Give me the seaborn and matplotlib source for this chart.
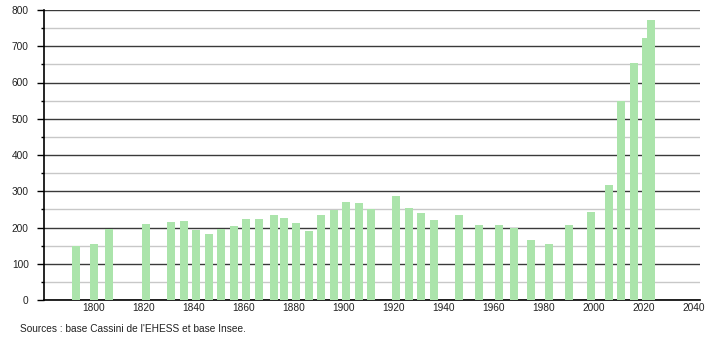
import matplotlib
matplotlib.use("Agg")
import matplotlib.pyplot as plt
import seaborn as sns
import pandas as pd
from matplotlib.ticker import MultipleLocator

years = [1793, 1800, 1806, 1821, 1831, 1836, 1841, 1846, 1851, 1856, 1861, 1866,
         1872, 1876, 1881, 1886, 1891, 1896, 1901, 1906, 1911, 1921, 1926, 1931,
         1936, 1946, 1954, 1962, 1968, 1975, 1982, 1990, 1999, 2006, 2011, 2016,
         2021, 2023]
population = [149, 154, 197, 211, 215, 218, 193, 182, 197, 204, 223, 223,
              234, 226, 213, 191, 234, 248, 270, 267, 251, 287, 253, 240,
              221, 234, 207, 207, 200, 166, 154, 207, 243, 317, 549, 655,
              722, 772]
x_ticks = [1800, 1820, 1840, 1860, 1880, 1900, 1920, 1940, 1960, 1980, 2000, 2020, 2040]
y_ticks = [0, 100, 200, 300, 400, 500, 600, 700, 800]
source_text = "Sources : base Cassini de l'EHESS et base Insee."

df = pd.DataFrame({"year": years, "population": population})

sns.set_style("white")
plt.rcParams["font.family"] = ["Liberation Sans", "DejaVu Sans"]

fig = plt.figure(figsize=(7.1, 3.4), dpi=100)
ax = fig.add_axes([44 / 710, 1 - 300 / 340, (700 - 44) / 710, 290 / 340])

sns.barplot(data=df, x="year", y="population", native_scale=True,
            color="#abe4ab", saturation=1, width=1.6, ax=ax, zorder=3,
            edgecolor="none", linewidth=0)

ax.set_xlim(1780, 2042.5)
ax.set_ylim(0, 800)
ax.set_xticks(x_ticks)
ax.set_xticklabels([str(t) for t in x_ticks])
ax.set_yticks(y_ticks)
ax.yaxis.set_minor_locator(MultipleLocator(50))
ax.set_xlabel("")
ax.set_ylabel("")

ax.set_axisbelow(True)
ax.grid(False)
ax.yaxis.grid(True, which="major", color="#3a3a3a", linewidth=1.0)
ax.yaxis.grid(True, which="minor", color="#c8c8c8", linewidth=1.0)

for s in ["top", "right"]:
    ax.spines[s].set_visible(False)
for s in ["left", "bottom"]:
    ax.spines[s].set_visible(True)
    ax.spines[s].set_color("#000000")
    ax.spines[s].set_linewidth(1.2)

ax.tick_params(axis="y", which="major", left=True, length=5, width=1, color="#000000",
               labelsize=7.3, pad=6, labelcolor="#222222")
ax.tick_params(axis="y", which="minor", left=True, length=2.5, width=1, color="#000000")
ax.tick_params(axis="x", which="both", bottom=False, length=0, labelsize=7.3, pad=2.5,
               labelcolor="#222222")

fig.text(20 / 710, 1 - 329 / 340, source_text, fontsize=7.3, color="#222222",
         ha="left", va="center")

fig.savefig("out.png", dpi=100)
